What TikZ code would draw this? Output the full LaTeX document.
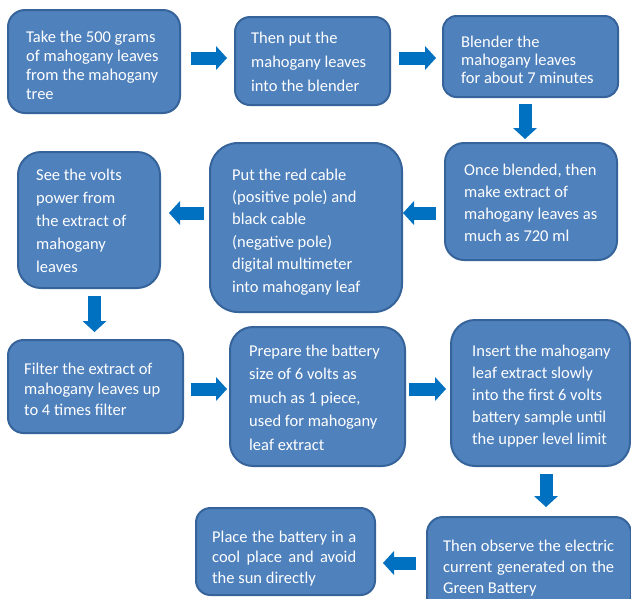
\documentclass[tikz,border=0pt]{standalone}
\usepackage{fontspec}
\setmainfont{Carlito}
\usetikzlibrary{arrows.meta}
\definecolor{stepfill}{HTML}{4F81BD}
\definecolor{stepline}{HTML}{36649A}
\definecolor{flowblue}{HTML}{0070C0}
\tikzset{
  stepbox/.style={draw=stepline, line width=2pt, fill=stepfill, inner sep=0pt},
  % text nodes are placed by the baseline of their last line
  steptext/.style={text=white, align=left, inner sep=0pt, anchor=base west,
    font=\fontsize{16.5}{#1}\selectfont},
  flow/.style={draw=flowblue, line width=13pt,
    -{Triangle[length=11pt,width=24pt,line width=0pt]}}
}
\begin{document}
\begin{tikzpicture}[x=1pt,y=-1pt]
\useasboundingbox (0,0) rectangle (631,598);
\clip (0,0) rectangle (631,598);
\fill[white] (0,0) rectangle (631,598);

% boxes
\node[stepbox, minimum width=172pt, minimum height=103pt, rounded corners=17pt] (b1) at (94,61.5) {};
\node[stepbox, minimum width=155pt, minimum height=88pt, rounded corners=15pt] (b2) at (312.5,61) {};
\node[stepbox, minimum width=175pt, minimum height=81pt, rounded corners=13.5pt] (b3) at (530.5,56.5) {};
\node[stepbox, minimum width=172pt, minimum height=117pt, rounded corners=19pt] (b4) at (531,201.5) {};
\node[stepbox, minimum width=192pt, minimum height=169pt, rounded corners=28pt] (b5) at (306,227.5) {};
\node[stepbox, minimum width=142pt, minimum height=136pt, rounded corners=23pt] (b6) at (89,220) {};
\node[stepbox, minimum width=175pt, minimum height=93pt, rounded corners=15.5pt] (b7) at (95.5,386.5) {};
\node[stepbox, minimum width=175pt, minimum height=139pt, rounded corners=23pt] (b8) at (317.5,396.5) {};
\node[stepbox, minimum width=179pt, minimum height=146pt, rounded corners=24pt] (b9) at (540.5,393) {};
\node[stepbox, minimum width=204pt, minimum height=96pt, rounded corners=16pt] (b10) at (529,565) {};
\node[stepbox, minimum width=179pt, minimum height=87pt, rounded corners=14.5pt] (b11) at (285.5,551.5) {};

% texts
\node[steptext=18.7] (t1) at ([xshift=19pt,yshift=-90pt]b1.north west)
  {Take the 500 grams\\of mahogany leaves\\from the mahogany\\tree};
\node[steptext=24] (t2) at ([xshift=17pt,yshift=-75pt]b2.north west)
  {Then put the\\mahogany leaves\\into the blender};
\node[steptext=18.3] (t3) at ([xshift=19pt,yshift=-68.6pt]b3.north west)
  {Blender the\\mahogany leaves\\for about 7 minutes};
\node[steptext=21.7] (t4) at ([xshift=20pt,yshift=-99pt]b4.north west)
  {Once blended, then\\make extract of\\mahogany leaves as\\much as 720 ml};
\node[steptext=22.4] (t5) at ([xshift=23pt,yshift=-150pt]b5.north west)
  {Put the red cable\\(positive pole) and\\black cable\\(negative pole)\\digital multimeter\\into mahogany leaf};
\node[steptext=23.2] (t6) at ([xshift=19pt,yshift=-121.8pt]b6.north west)
  {See the volts\\power from\\the extract of\\mahogany\\leaves};
\node[steptext=20.5] (t7) at ([xshift=17pt,yshift=-76pt]b7.north west)
  {Filter the extract of\\mahogany leaves up\\to 4 times filter};
\node[steptext=23.5] (t8) at ([xshift=20pt,yshift=-124pt]b8.north west)
  {Prepare the battery\\size of 6 volts as\\much as 1 piece,\\used for mahogany\\leaf extract};
\node[steptext=22] (t9) at ([xshift=22pt,yshift=-125pt]b9.north west)
  {Insert the mahogany\\leaf extract slowly\\into the first 6 volts\\battery sample until\\the upper level limit};
\node[steptext=21] (t10) at ([xshift=17pt,yshift=-77pt]b10.north west)
  {\makebox[171pt][s]{Then observe the electric}\\\makebox[171pt][s]{current generated on the}\\Green Battery};
\node[steptext=20.5] (t11) at ([xshift=17pt,yshift=-76pt]b11.north west)
  {\makebox[144pt][s]{Place the battery in a}\\\makebox[144pt][s]{cool place and avoid}\\the sun directly};

% flow arrows
\draw[flow, transform canvas={yshift=3.5pt}, shorten <=10pt, shorten >=7pt] (b1.east) -- (b1.east -| b2.west);
\draw[flow, transform canvas={yshift=3pt}, shorten <=8pt, shorten >=6pt] (b2.east) -- (b2.east -| b3.west);
\draw[flow, transform canvas={xshift=-5.5pt}, shorten <=6pt, shorten >=3pt] (b3.south) -- (b3.south |- b4.north);
\draw[flow, transform canvas={yshift=-11.5pt}, shorten <=8pt, shorten >=0pt] (b4.west) -- (b4.west -| b5.east);
\draw[flow, transform canvas={yshift=14.5pt}, shorten <=5pt, shorten >=8pt] (b5.west) -- (b5.west -| b6.east);
\draw[flow, transform canvas={xshift=5.5pt}, shorten <=7pt, shorten >=7pt] (b6.south) -- (b6.south |- b7.north);
\draw[flow, transform canvas={yshift=-2.5pt}, shorten <=7pt, shorten >=2pt] (b7.east) -- (b7.east -| b8.west);
\draw[flow, transform canvas={yshift=7.5pt}, shorten <=3pt, shorten >=4pt] (b8.east) -- (b8.east -| b9.west);
\draw[flow, transform canvas={xshift=5.5pt}, shorten <=7pt, shorten >=9pt] (b9.south) -- (b9.south |- b10.north);
\draw[flow, transform canvas={yshift=2pt}, shorten <=10pt, shorten >=7pt] (b10.west) -- (b10.west -| b11.east);
\end{tikzpicture}
\end{document}
